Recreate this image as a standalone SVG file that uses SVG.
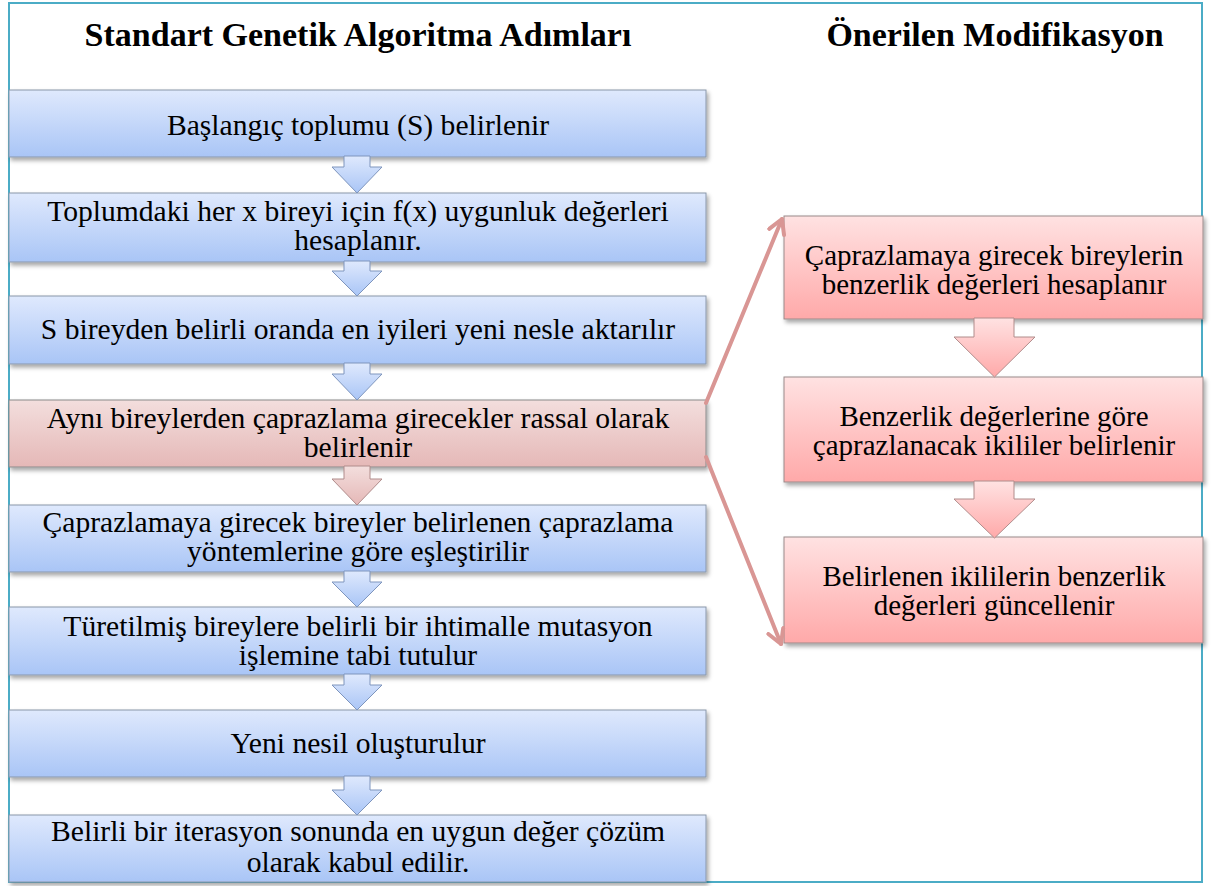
<svg xmlns="http://www.w3.org/2000/svg" width="1217" height="886" viewBox="0 0 1217 886">
<defs>
<linearGradient id="gBlue" x1="0" y1="0" x2="0" y2="1"><stop offset="0" stop-color="#dfe9fd"/><stop offset="1" stop-color="#a9c5f6"/></linearGradient>
<linearGradient id="gMuted" x1="0" y1="0" x2="0" y2="1"><stop offset="0" stop-color="#f3dedd"/><stop offset="1" stop-color="#e5b8b7"/></linearGradient>
<linearGradient id="gPink" x1="0" y1="0" x2="0" y2="1"><stop offset="0" stop-color="#ffe2e2"/><stop offset="1" stop-color="#ffa9a9"/></linearGradient>
<filter id="sh" x="-5%" y="-10%" width="110%" height="130%"><feDropShadow dx="2" dy="3" stdDeviation="2" flood-color="#000" flood-opacity="0.35"/></filter>
<marker id="ah" viewBox="0 0 10 10" refX="8" refY="5" markerWidth="5" markerHeight="5" orient="auto" markerUnits="strokeWidth"><path d="M1,1 L8,5 L1,9" fill="none" stroke="#d99694" stroke-width="2" stroke-linecap="round" stroke-linejoin="round"/></marker>
<style>
.bb{fill:url(#gBlue);stroke:#8a97aa;stroke-width:1;filter:url(#sh)}
.mb{fill:url(#gMuted);stroke:#8a8a8a;stroke-width:1;filter:url(#sh)}
.pb{fill:url(#gPink);stroke:#9a8a8a;stroke-width:1;filter:url(#sh)}
.ba{fill:url(#gBlue);stroke:#7e95bd;stroke-width:1}
.ma{fill:url(#gMuted);stroke:#b08c8b;stroke-width:1}
.pa{fill:url(#gPink);stroke:#b08c8b;stroke-width:1}
.t{font-family:"Liberation Serif","Times New Roman",serif;font-size:29.6px;fill:#000;text-anchor:middle}
.tr{font-family:"Liberation Serif","Times New Roman",serif;font-size:29px;fill:#000;text-anchor:middle}
.h{font-family:"Liberation Serif","Times New Roman",serif;font-size:34px;font-weight:bold;fill:#000;text-anchor:middle}
.c{fill:none;stroke:#d99694;stroke-width:4;stroke-linecap:round}
</style>
</defs>
<rect x="9" y="3" width="1193" height="879" fill="#fff" stroke="#4bacc6" stroke-width="2"/>
<text class="h" x="358" y="46">Standart Genetik Algoritma Adımları</text>
<text class="h" x="995" y="46">Önerilen Modifikasyon</text>

<g id="n1"><rect class="bb" x="9" y="90" width="697" height="67"/><text class="t" x="358" y="135">Başlangıç toplumu (S) belirlenir</text></g>
<g id="n2"><rect class="bb" x="9" y="193" width="697" height="69"/><text class="t" x="358" y="221">Toplumdaki her x bireyi için f(x) uygunluk değerleri</text><text class="t" x="358" y="250">hesaplanır.</text></g>
<g id="n3"><rect class="bb" x="9" y="296" width="697" height="68"/><text class="t" x="358" y="339">S bireyden belirli oranda en iyileri yeni nesle aktarılır</text></g>
<g id="n4"><rect class="mb" x="9" y="400" width="697" height="67"/><text class="t" x="358" y="428">Aynı bireylerden çaprazlama girecekler rassal olarak</text><text class="t" x="358" y="457">belirlenir</text></g>
<g id="n5"><rect class="bb" x="9" y="505" width="697" height="67"/><text class="t" x="358" y="532">Çaprazlamaya  girecek bireyler belirlenen çaprazlama</text><text class="t" x="358" y="561">yöntemlerine göre eşleştirilir</text></g>
<g id="n6"><rect class="bb" x="9" y="607" width="697" height="68"/><text class="t" x="358" y="636">Türetilmiş bireylere belirli bir ihtimalle mutasyon</text><text class="t" x="358" y="665">işlemine tabi tutulur</text></g>
<g id="n7"><rect class="bb" x="9" y="710" width="697" height="67"/><text class="t" x="358" y="753">Yeni nesil oluşturulur</text></g>
<g id="n8"><rect class="bb" x="9" y="815" width="697" height="67"/><text class="t" x="358" y="841">Belirli bir iterasyon sonunda en uygun değer çözüm</text><text class="t" x="358" y="872">olarak kabul edilir.</text></g>

<g id="r1"><rect class="pb" x="784" y="216" width="419" height="103"/><text class="tr" x="994" y="265">Çaprazlamaya girecek bireylerin</text><text class="tr" x="994" y="294">benzerlik değerleri hesaplanır</text></g>
<g id="r2"><rect class="pb" x="784" y="377" width="419" height="105"/><text class="tr" x="994" y="426">Benzerlik değerlerine göre</text><text class="tr" x="994" y="455">çaprazlanacak ikililer belirlenir</text></g>
<g id="r3"><rect class="pb" x="784" y="537" width="419" height="106"/><text class="tr" x="994" y="586">Belirlenen ikililerin benzerlik</text><text class="tr" x="994" y="615">değerleri güncellenir</text></g>

<g id="connectors">
<path class="ba" d="M344,156 H370 V167 H382 L357,193 L332,167 H344 Z"/>
<path class="ba" d="M344,261 H370 V271 H382 L357,296 L332,271 H344 Z"/>
<path class="ba" d="M344,363 H370 V374 H382 L357,400 L332,374 H344 Z"/>
<path class="ma" d="M344,466 H370 V479 H382 L357,505 L332,479 H344 Z"/>
<path class="ba" d="M344,571 H370 V582 H382 L357,607 L332,582 H344 Z"/>
<path class="ba" d="M344,674 H370 V685 H382 L357,710 L332,685 H344 Z"/>
<path class="ba" d="M344,776 H370 V790 H382 L357,815 L332,790 H344 Z"/>
<path class="pa" d="M974,318 H1014 V337 H1035 L994.5,377 L954,337 H974 Z"/>
<path class="pa" d="M974,481 H1014 V499 H1035 L994.5,538 L954,499 H974 Z"/>
<line class="c" x1="706" y1="403" x2="782" y2="219" marker-end="url(#ah)"/>
<line class="c" x1="706" y1="457" x2="781" y2="644" marker-end="url(#ah)"/>
</g>
</svg>
